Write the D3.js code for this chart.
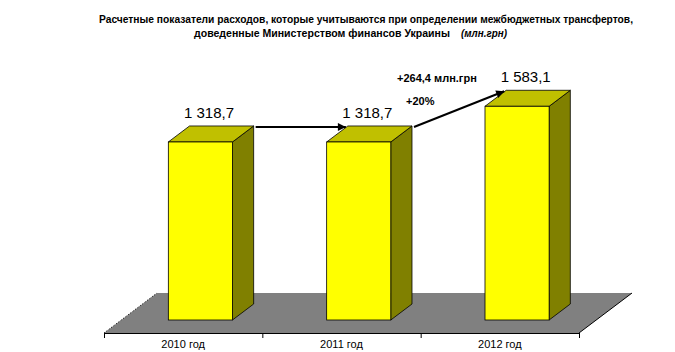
<!DOCTYPE html>
<html>
  <head>
    <meta charset="UTF-8" />
    <script src="https://cdnjs.cloudflare.com/ajax/libs/d3/7.8.5/d3.min.js"></script>
    <style>
      body { margin: 0; background: #fff; }
      text { font-family: "Liberation Sans", Arial, sans-serif; }
    </style>
  </head>
  <body>
    <div id="viz"><svg style="width:675px;height:352px;"></svg></div>
    <script>
      const categories = ["2010 год", "2011 год", "2012 год"];
      const values = [1318.7, 1318.7, 1583.1];
      const valueLabels = ["1 318,7", "1 318,7", "1 583,1"];
      const titleLine1 = "Расчетные показатели расходов, которые учитываются при определении межбюджетных трансфертов,";
      const titleLine2 = "доведенные Министерством финансов Украины";
      const titleUnit = "(млн.грн)";
      const growthAbs = "+264,4 млн.грн";
      const growthPct = "+20%";

      const frontColor = "#ffff00",
        topColor = "#c0c000",
        sideColor = "#808000",
        floorColor = "#808080";

      const svg = d3.select("svg");

      // floor depth and bar depth (oblique projection)
      const fdx = 53, fdy = -40;
      const axisY = 333;
      const b0 = 0.325, b1 = 0.725; // bar front/back position inside the floor depth

      const xScale = d3.scaleBand().domain(categories).range([104, 579]),
        yScale = d3.scaleLinear().domain([0, 1600]).range([axisY + b0 * fdy, axisY + b0 * fdy - 216]);

      const barW = xScale.bandwidth() * 0.405;
      const bdx = (b1 - b0) * fdx, bdy = (b1 - b0) * fdy;
      const sx = b0 * fdx;

      // floor
      const x0 = xScale.range()[0], x1 = xScale.range()[1];
      svg.append("polygon")
        .attr("points", [[x0, axisY], [x0 + fdx, axisY + fdy], [x1 + fdx, axisY + fdy], [x1, axisY]].join(" "))
        .attr("fill", floorColor);
      svg.append("line")
        .attr("x1", x1).attr("y1", axisY).attr("x2", x1 + fdx).attr("y2", axisY + fdy)
        .attr("stroke", "#000").attr("stroke-width", 1);
      svg.append("line")
        .attr("x1", x0).attr("y1", axisY).attr("x2", x0 + fdx).attr("y2", axisY + fdy)
        .attr("stroke", "#000").attr("stroke-width", 1).attr("stroke-dasharray", "1,2");

      // category axis
      const xAxis = d3.axisBottom(xScale).tickSize(0).tickPadding(7);
      const gx = svg.append("g").attr("transform", `translate(0,${axisY})`).call(xAxis);
      gx.select(".domain").attr("stroke", "#000");
      gx.selectAll("text").attr("font-size", 11).attr("fill", "#000")
        .attr("font-family", "Liberation Sans, Arial, sans-serif");
      svg.selectAll("line.tick")
        .data([...categories.map(c => xScale(c)), x1])
        .enter()
        .append("line")
        .attr("class", "tick")
        .attr("x1", d => d + 0.5).attr("x2", d => d + 0.5)
        .attr("y1", axisY).attr("y2", axisY + 5)
        .attr("stroke", "#000");

      // bars
      const bars = categories.map((c, i) => {
        const xl = xScale(c) + (xScale.bandwidth() - barW) / 2 + sx;
        return { xl: xl, xr: xl + barW, yb: yScale(0), yt: yScale(values[i]), i: i };
      });

      const g = svg.selectAll("g.bar").data(bars).enter().append("g").attr("class", "bar");
      g.append("polygon")
        .attr("points", d => [[d.xr, d.yb], [d.xr + bdx, d.yb + bdy], [d.xr + bdx, d.yt + bdy], [d.xr, d.yt]].join(" "))
        .attr("fill", sideColor).attr("stroke", "#000").attr("stroke-width", 0.8);
      g.append("polygon")
        .attr("points", d => [[d.xl, d.yt], [d.xl + bdx, d.yt + bdy], [d.xr + bdx, d.yt + bdy], [d.xr, d.yt]].join(" "))
        .attr("fill", topColor).attr("stroke", "#000").attr("stroke-width", 0.8);
      g.append("rect")
        .attr("x", d => d.xl).attr("y", d => d.yt)
        .attr("width", barW).attr("height", d => d.yb - d.yt)
        .attr("fill", frontColor).attr("stroke", "#000").attr("stroke-width", 0.8);

      // value labels
      g.append("text")
        .attr("x", d => (d.xl + d.xr) / 2 + bdx / 2 - 2)
        .attr("y", d => d.yt + bdy - 8)
        .attr("text-anchor", "middle")
        .attr("font-size", 15)
        .attr("fill", "#000")
        .text(d => valueLabels[d.i]);

      // arrows
      svg.append("defs").append("marker")
        .attr("id", "arrow")
        .attr("viewBox", "0 0 10 10")
        .attr("refX", 10).attr("refY", 5)
        .attr("markerWidth", 5).attr("markerHeight", 4)
        .attr("orient", "auto")
        .attr("markerUnits", "strokeWidth")
        .append("path").attr("d", "M0,0L10,5L0,10Z").attr("fill", "#000");

      d3.pairs(bars).forEach(([a, b]) => {
        svg.append("line")
          .attr("x1", a.xr + bdx + 2).attr("y1", a.yt + bdy + 1)
          .attr("x2", b.xl + bdx - 2).attr("y2", b.yt + bdy + 1)
          .attr("stroke", "#000").attr("stroke-width", 2)
          .attr("marker-end", "url(#arrow)");
      });

      svg.append("text")
        .attr("x", 397).attr("y", 82)
        .attr("font-size", 11).attr("font-weight", "bold")
        .text(growthAbs);
      svg.append("text")
        .attr("x", 406).attr("y", 105)
        .attr("font-size", 11).attr("font-weight", "bold")
        .text(growthPct);

      // title
      svg.append("text")
        .attr("x", 99).attr("y", 23)
        .attr("font-size", 11).attr("font-weight", "bold")
        .attr("textLength", 534).attr("lengthAdjust", "spacingAndGlyphs")
        .text(titleLine1);
      svg.append("text")
        .attr("x", 194).attr("y", 37)
        .attr("font-size", 11).attr("font-weight", "bold")
        .attr("textLength", 256).attr("lengthAdjust", "spacingAndGlyphs")
        .text(titleLine2);
      svg.append("text")
        .attr("x", 461).attr("y", 37)
        .attr("font-size", 11).attr("font-weight", "bold").attr("font-style", "italic")
        .attr("textLength", 46).attr("lengthAdjust", "spacingAndGlyphs")
        .text(titleUnit);
    </script>
  </body>
</html>
